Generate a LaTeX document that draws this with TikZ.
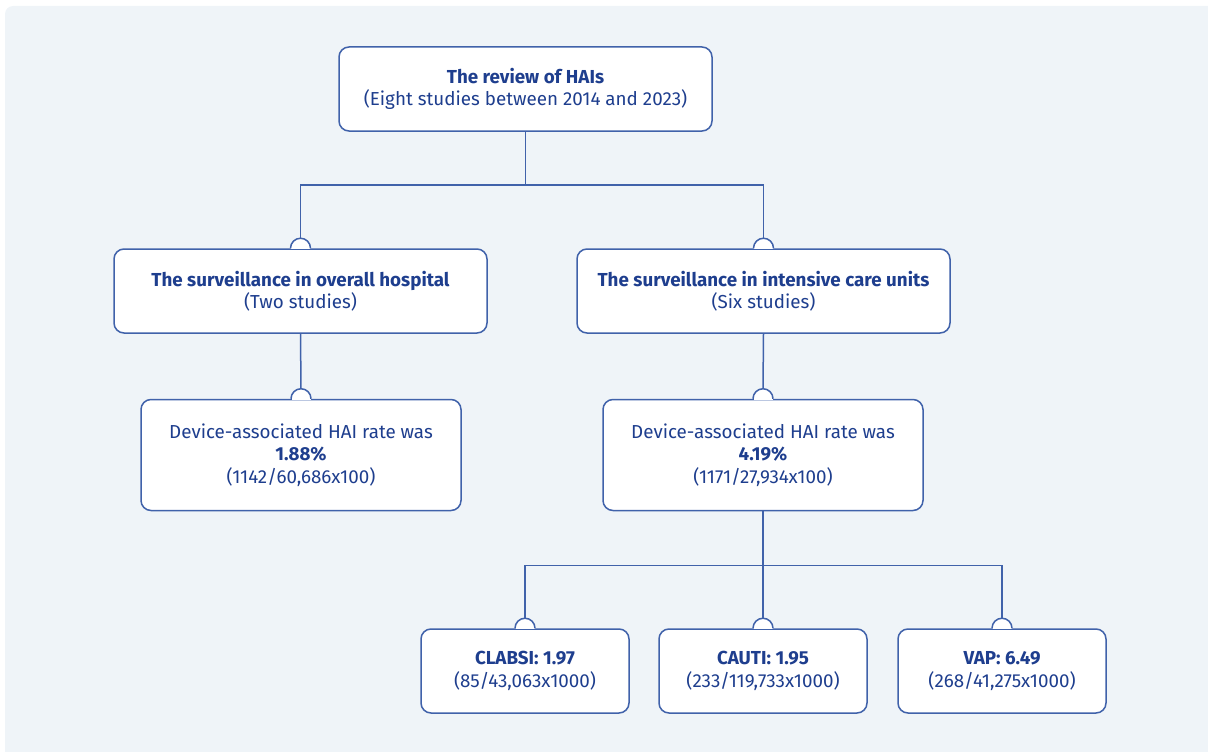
\documentclass[tikz,border=0pt]{standalone}
\usepackage{fontspec}
\setmainfont{Fira Sans}
\definecolor{linecol}{RGB}{64,98,170}
\definecolor{textcol}{RGB}{30,62,142}
\definecolor{bgcol}{RGB}{239,244,248}
\newcommand{\knob}[1]{%
	\fill[white] ([xshift=-9.5pt,yshift=1pt]#1.north) rectangle ([xshift=9.5pt,yshift=-1pt]#1.north);
	\draw[linecol,line width=1.5pt,fill=white] ([xshift=-10pt]#1.north) arc (180:0:10pt);}
\tikzset{
	box/.style={draw=linecol,line width=1.5pt,fill=white,rounded corners=10pt,align=center,
		text=textcol,font=\fontsize{18.8}{22.5}\selectfont,inner sep=0pt},
	wide/.style={box,minimum width=373pt,minimum height=84pt},
	rate/.style={box,minimum width=320pt,minimum height=111pt},
	small/.style={box,minimum width=208pt,minimum height=84pt},
	conn/.style={draw=linecol,line width=1.5pt}
}
\begin{document}
\begin{tikzpicture}[x=1pt,y=-1pt]
	\useasboundingbox (0,0) rectangle (1208,752);
	\fill[bgcol,rounded corners=8pt] (5,6) rectangle (1230,780);
	\node[wide] (top) at (525.5,89) {\textbf{The review of HAIs}\\(Eight studies between 2014 and 2023)};
	\node[wide] (overall) at (300.5,291) {\textbf{The surveillance in overall hospital}\\(Two studies)};
	\node[wide] (icu) at (763.5,291) {\textbf{The surveillance in intensive care units}\\(Six studies)};
	\node[rate] (overallrate) at (301,455) {Device-associated HAI rate was\\\textbf{1.88\%}\\(1142/60,686x100)};
	\node[rate] (icurate) at (763,455) {Device-associated HAI rate was\\\textbf{4.19\%}\\(1171/27,934x100)};
	\node[small] (clabsi) at (525,671) {\textbf{CLABSI: 1.97}\\(85/43,063x1000)};
	\node[small] (cauti) at (763,671) {\textbf{CAUTI: 1.95}\\(233/119,733x1000)};
	\node[small] (vap) at (1002,671) {\textbf{VAP: 6.49}\\(268/41,275x1000)};
	% bumps on top of the boxes
	\foreach \n in {overall,icu,overallrate,icurate,clabsi,cauti,vap}
		\knob{\n};
	% connectors
	\draw[conn] (top.south) -- ++(0,53) -| ([yshift=10pt]overall.north);
	\draw[conn] (top.south) -- ++(0,53) -| ([yshift=10pt]icu.north);
	\draw[conn] (overall.south) -- ([yshift=10pt]overallrate.north);
	\draw[conn] (icu.south) -- ([yshift=10pt]icurate.north);
	\foreach \n in {clabsi,cauti,vap}
		\draw[conn] (icurate.south) -- ++(0,54) -| ([yshift=10pt]\n.north);
\end{tikzpicture}
\end{document}
